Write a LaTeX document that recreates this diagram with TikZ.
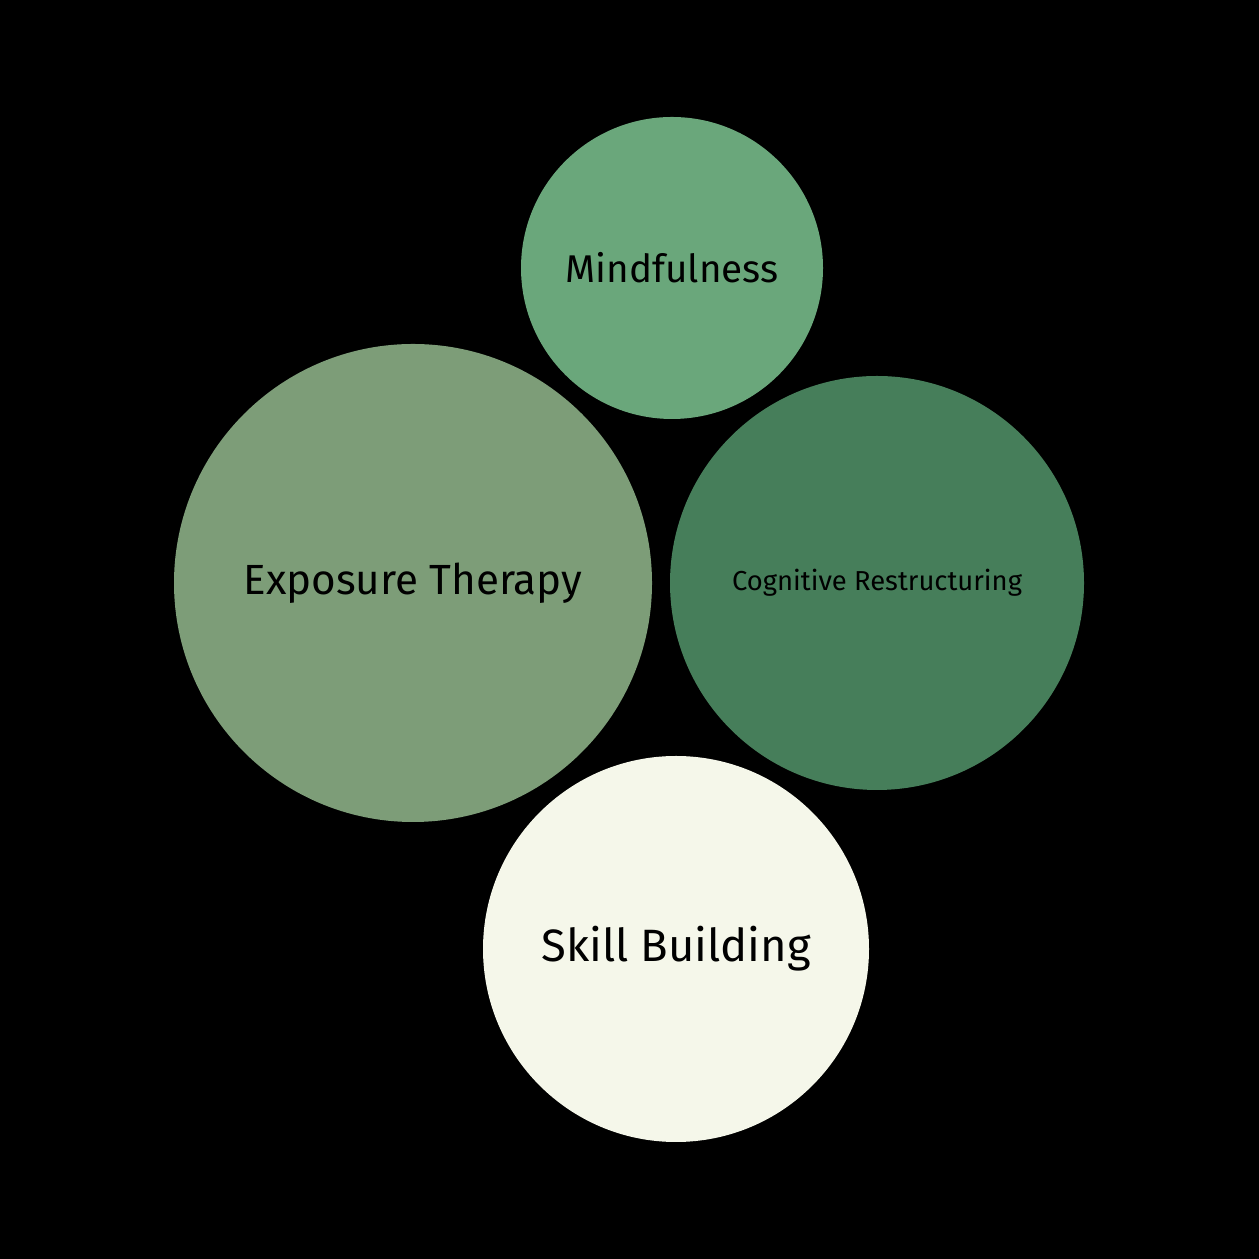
\documentclass[tikz,border=0pt]{standalone}
\usepackage{fontspec}
\setmainfont{Fira Sans}
\usepackage{xcolor}
\usepackage{tikz}
\usetikzlibrary{positioning}
\definecolor{mindgreen}{HTML}{6AA77B}
\definecolor{exposgreen}{HTML}{7D9D78}
\definecolor{cognigreen}{HTML}{467E5A}
\definecolor{skillcream}{HTML}{F5F7EA}
\tikzset{
  bubble/.style={circle, inner sep=0pt, align=center, text=black},
  mindbubble/.style={bubble, fill=mindgreen, minimum size=3.02cm, font=\fontsize{11pt}{13pt}\selectfont},
  exposbubble/.style={bubble, fill=exposgreen, minimum size=4.78cm, font=\fontsize{12pt}{14pt}\selectfont},
  cognibubble/.style={bubble, fill=cognigreen, minimum size=4.14cm, font=\fontsize{7.8pt}{9pt}\selectfont},
  skillbubble/.style={bubble, fill=skillcream, minimum size=3.86cm, font=\fontsize{12.9pt}{15pt}\selectfont}
}
\begin{document}
\begin{tikzpicture}
\fill[black] (0,0) rectangle (12.59,12.59);
\useasboundingbox (0,0) rectangle (12.59,12.59);
\node[mindbubble] (mind) at (6.72,9.91) {Mindfulness};
\node[exposbubble] (expos) at (4.13,6.76) {Exposure Therapy};
\node[cognibubble] (cogni) at (8.77,6.76) {Cognitive Restructuring};
\node[skillbubble] (skill) at (6.76,3.10) {Skill Building};
\end{tikzpicture}
\end{document}
